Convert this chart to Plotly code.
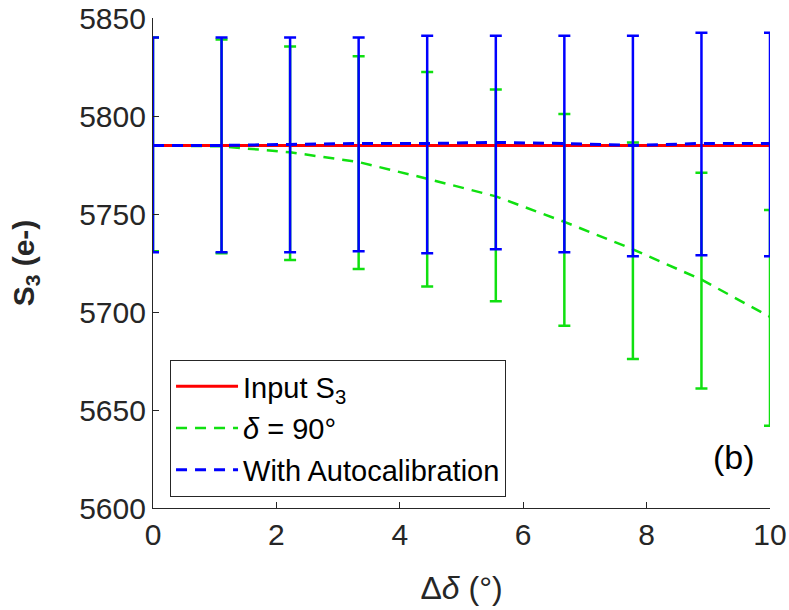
import numpy as np
import plotly.graph_objects as go

# ---- data ----
delta_delta = [0, 1.111, 2.222, 3.333, 4.444, 5.556, 6.667, 7.778, 8.889, 10]
input_s3 = [5785] * 10

green_mean = [5785, 5784.5, 5781.5, 5776.5, 5768, 5759, 5746, 5732, 5716.5, 5697.5]
green_upper = [5840, 5839, 5835.5, 5830.5, 5822.5, 5813.5, 5801, 5786.5, 5771, 5752]
green_lower = [5731, 5730, 5726.5, 5722, 5713, 5705.5, 5693, 5676, 5661, 5642]

blue_mean = [5785, 5785, 5785.5, 5786, 5786, 5786.5, 5786, 5785, 5786, 5786]
blue_upper = [5840, 5840, 5840, 5840, 5841, 5841, 5841, 5841, 5842.5, 5842.5]
blue_lower = [5730.5, 5730.5, 5730.5, 5731, 5730, 5732, 5730.5, 5728.5, 5729, 5728.5]

x_ticks = [0, 2, 4, 6, 8, 10]
y_ticks = [5600, 5650, 5700, 5750, 5800, 5850]

GREEN = "#10e010"
BLUE = "#0000ff"
RED = "#ff0000"
AX = "#262626"
FONT = "Liberation Sans, Arial, sans-serif"

g_plus = [u - m for u, m in zip(green_upper, green_mean)]
g_minus = [m - l for l, m in zip(green_lower, green_mean)]
b_plus = [u - m for u, m in zip(blue_upper, blue_mean)]
b_minus = [m - l for l, m in zip(blue_lower, blue_mean)]

fig = go.Figure()
fig.add_trace(go.Scatter(
    x=delta_delta, y=green_mean, mode="lines",
    name="<i>δ</i> = 90°", legendrank=2, legendgroup="g", cliponaxis=False,
    line=dict(color=GREEN, width=2.5, dash="11px,8px"),
    error_y=dict(type="data", symmetric=False, array=g_plus, arrayminus=g_minus,
                 color=GREEN, thickness=2.5, width=6),
))
fig.add_trace(go.Scatter(
    x=delta_delta, y=input_s3, mode="lines",
    name="Input S<sub>3</sub>", legendrank=1, legendgroup="r", cliponaxis=False,
    line=dict(color=RED, width=3),
))
fig.add_trace(go.Scatter(
    x=delta_delta, y=blue_mean, mode="lines",
    name="With Autocalibration", legendrank=3, legendgroup="b", cliponaxis=False,
    line=dict(color=BLUE, width=3, dash="11px,8px"),
    error_y=dict(type="data", symmetric=False, array=b_plus, arrayminus=b_minus,
                 color=BLUE, thickness=2.5, width=6),
))

fig.add_annotation(x=9.42, y=5626, xref="x", yref="y", text="(b)", showarrow=False,
                   font=dict(family=FONT, size=34, color="#000000"))

fig.update_layout(
    width=789, height=610,
    margin=dict(l=153, r=19, t=18, b=102, autoexpand=False),
    paper_bgcolor="white", plot_bgcolor="white",
    font=dict(family=FONT, color=AX),
    showlegend=True,
    legend=dict(
        x=0.0276, y=0.302, xanchor="left", yanchor="top",
        bgcolor="white", bordercolor=AX, borderwidth=1,
        font=dict(family=FONT, size=29, color="#000000"),
        itemwidth=62, tracegroupgap=1,
    ),
)
fig.update_xaxes(
    range=[0, 10], tickvals=x_ticks, ticktext=[str(v) for v in x_ticks],
    automargin=False, ticklabeloverflow="allow",
    showgrid=False, zeroline=False, showline=True, linecolor=AX, linewidth=1.2,
    ticks="inside", ticklen=6, tickcolor=AX, tickwidth=1.2,
    tickfont=dict(family=FONT, size=30, color=AX),
    title=dict(text="Δ<i>δ</i> (°)", font=dict(family=FONT, size=32, color=AX), standoff=26),
)
fig.update_yaxes(
    range=[5600, 5850], tickvals=y_ticks, ticktext=[str(v) for v in y_ticks],
    automargin=False, ticklabeloverflow="allow",
    showgrid=False, zeroline=False, showline=True, linecolor=AX, linewidth=1.2,
    ticks="inside", ticklen=6, tickcolor=AX, tickwidth=1.2,
    tickfont=dict(family=FONT, size=30, color=AX),
    title=dict(text="<b>S<sub>3</sub> (e-)</b>", font=dict(family=FONT, size=30, color=AX), standoff=35),
)

fig.write_html("out.html",
               config={"displayModeBar": False},
               post_script="document.body.style.margin='0';document.body.style.padding='0';")
